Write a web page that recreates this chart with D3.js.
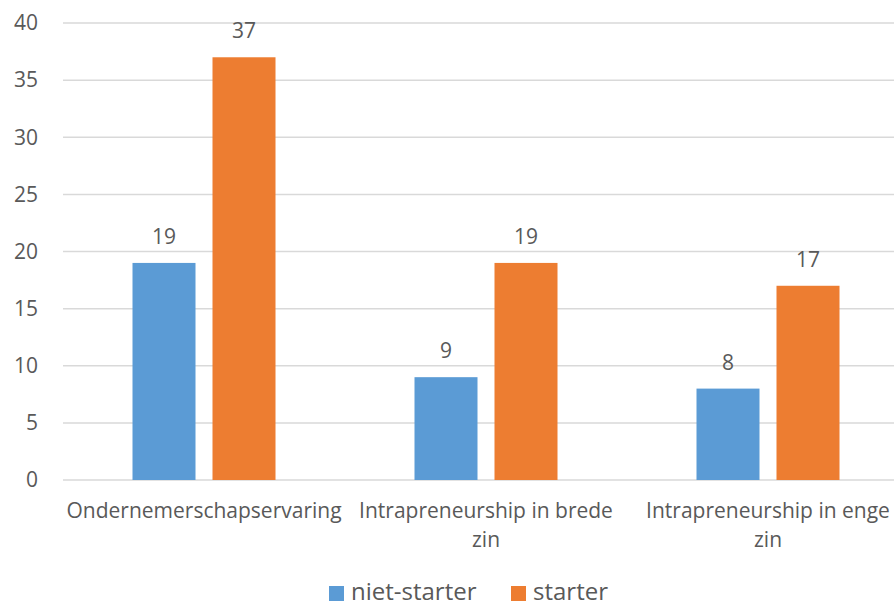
<!DOCTYPE html>
<html>
<head>
<meta charset="utf-8">
<script src="https://cdn.jsdelivr.net/npm/d3@7"></script>
<style>
  body { margin: 0; background: #fff; }
  text { font-family: "Open Sans", sans-serif; fill: #595959; }
</style>
</head>
<body>
<div id="chart"></div>
<script>
var categories = ['Ondernemerschapservaring', 'Intrapreneurship in brede zin', 'Intrapreneurship in enge zin'];
var seriesNames = ['niet-starter', 'starter'];
var nietStarter = [19, 9, 8];
var starter = [37, 19, 17];
var yTicks = [0, 5, 10, 15, 20, 25, 30, 35, 40];
var colors = ['#5B9BD5', '#ED7D31'];

var svg = d3.select('#chart').append('svg')
  .attr('width', 894)
  .attr('height', 606);

var mLeft = 63, mRight = 909, mTop = 23, mBottom = 480;

var x = d3.scaleBand().domain(categories).range([mLeft, mRight]);
var x1 = d3.scaleBand().domain(seriesNames).range([69.5, 69.5 + 143]).paddingInner(17 / 80);
var y = d3.scaleLinear().domain([0, 40]).range([mBottom, mTop]);

// gridlines
svg.append('g').selectAll('line').data(yTicks).enter().append('line')
  .attr('x1', mLeft).attr('x2', 894)
  .attr('y1', function (d) { return y(d); })
  .attr('y2', function (d) { return y(d); })
  .attr('stroke', '#d9d9d9')
  .attr('stroke-width', 1.5);

// y tick labels
svg.append('g').selectAll('text').data(yTicks).enter().append('text')
  .attr('x', 38)
  .attr('y', function (d) { return y(d); })
  .attr('dy', '0.35em')
  .attr('text-anchor', 'end')
  .attr('font-size', 21)
  .text(function (d) { return d; });

var table = categories.map(function (c, i) {
  return { cat: c, values: [nietStarter[i], starter[i]] };
});

var groups = svg.append('g').selectAll('g').data(table).enter().append('g')
  .attr('transform', function (d) { return 'translate(' + x(d.cat) + ',0)'; });

groups.selectAll('rect').data(function (d) { return d.values; }).enter().append('rect')
  .attr('x', function (d, i) { return x1(seriesNames[i]); })
  .attr('width', x1.bandwidth())
  .attr('y', function (d) { return y(d); })
  .attr('height', function (d) { return mBottom - y(d); })
  .attr('fill', function (d, i) { return colors[i]; });

groups.selectAll('text.val').data(function (d) { return d.values; }).enter().append('text')
  .attr('class', 'val')
  .attr('x', function (d, i) { return x1(seriesNames[i]) + x1.bandwidth() / 2; })
  .attr('y', function (d) { return y(d) - 19; })
  .attr('text-anchor', 'middle')
  .attr('font-size', 21)
  .text(function (d) { return d; });

// category labels, wrapped
function wrap(words, width, size) {
  var lines = [], cur = '';
  var probe = svg.append('text').attr('font-size', size);
  words.split(' ').forEach(function (w) {
    var t = cur ? cur + ' ' + w : w;
    probe.text(t);
    if (probe.node().getComputedTextLength() > width && cur) { lines.push(cur); cur = w; }
    else cur = t;
  });
  lines.push(cur);
  probe.remove();
  return lines;
}

categories.forEach(function (c) {
  var lines = wrap(c, 265, 21);
  var t = svg.append('text')
    .attr('text-anchor', 'middle')
    .attr('font-size', 21);
  lines.forEach(function (l, i) {
    t.append('tspan')
      .attr('x', x(c) + x.bandwidth() / 2)
      .attr('y', 518 + i * 29)
      .text(l);
  });
});

// legend
var legend = svg.append('g');
var legX = [329, 511];
seriesNames.forEach(function (s, i) {
  legend.append('rect')
    .attr('x', legX[i]).attr('y', 586)
    .attr('width', 15).attr('height', 15)
    .attr('fill', colors[i]);
  legend.append('text')
    .attr('x', legX[i] + 22).attr('y', 600)
    .attr('font-size', 24)
    .text(s);
});
</script>
</body>
</html>
